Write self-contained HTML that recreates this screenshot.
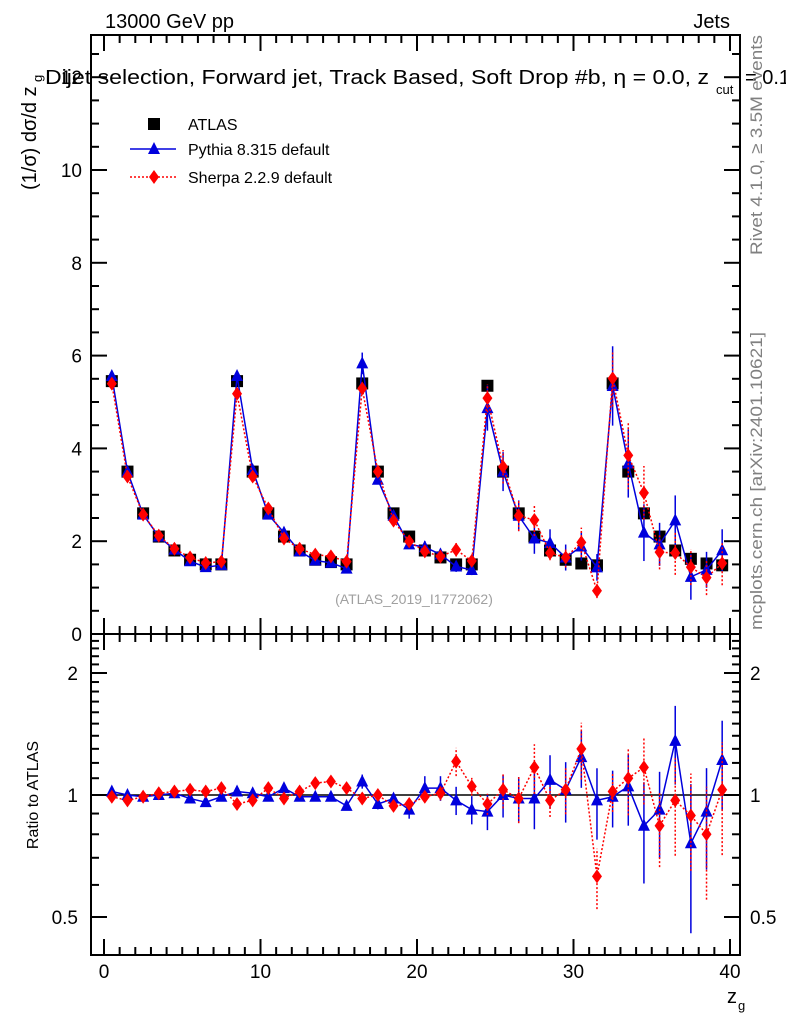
<!DOCTYPE html>
<html><head><meta charset="utf-8"><style>
body{margin:0;background:#fff;}
svg{display:block;font-family:"Liberation Sans",sans-serif;}
</style></head><body>
<svg id="c" width="786" height="1024" xmlns="http://www.w3.org/2000/svg"></svg>
<script>
const atlas=[5.45,3.5,2.6,2.1,1.8,1.6,1.5,1.5,5.45,3.5,2.6,2.1,1.8,1.6,1.55,1.5,5.4,3.5,2.6,2.1,1.8,1.65,1.5,1.5,5.35,3.5,2.6,2.1,1.8,1.6,1.52,1.48,5.4,3.5,2.6,2.1,1.8,1.62,1.52,1.48];
const pythiaRatio=[1.02,1.0,0.99,1.0,1.01,0.98,0.96,0.99,1.02,1.01,0.99,1.04,0.99,0.99,0.99,0.94,1.08,0.95,0.98,0.92,1.04,1.04,0.97,0.92,0.91,1.0,0.98,0.98,1.09,1.03,1.24,0.97,0.99,1.05,0.84,0.92,1.36,0.76,0.91,1.22];
const pythiaErr=[0.01,0.01,0.01,0.01,0.01,0.01,0.01,0.01,0.01,0.01,0.01,0.01,0.01,0.01,0.01,0.02,0.04,0.03,0.03,0.05,0.07,0.07,0.08,0.08,0.1,0.12,0.13,0.16,0.15,0.17,0.16,0.2,0.16,0.2,0.28,0.24,0.22,0.4,0.28,0.25];
const sherpaRatio=[0.99,0.97,0.99,1.01,1.02,1.03,1.02,1.04,0.95,0.97,1.04,0.98,1.02,1.07,1.08,1.04,0.98,1.0,0.94,0.95,0.99,1.01,1.21,1.05,0.95,1.03,0.98,1.17,0.97,1.03,1.3,0.63,1.02,1.1,1.17,0.84,0.97,0.89,0.8,1.03];
const sherpaErr=[0.01,0.01,0.01,0.01,0.01,0.01,0.01,0.01,0.01,0.01,0.01,0.01,0.01,0.01,0.01,0.02,0.02,0.02,0.03,0.03,0.03,0.04,0.08,0.05,0.06,0.1,0.13,0.14,0.09,0.13,0.16,0.17,0.11,0.19,0.19,0.21,0.27,0.27,0.31,0.31];
const xTicks=[0,10,20,30,40];
const yTicks=[0,2,4,6,8,10,12];
const rTicks=[0.5,1,2];

const S=document.getElementById('c'),NS='http://www.w3.org/2000/svg';
function el(t,a,p){const e=document.createElementNS(NS,t);for(const k in a)e.setAttribute(k,a[k]);(p||S).appendChild(e);return e;}
const L=91,R=740,MT=35,MB=634,RT=634,RB=955;
const X=v=>104+v*15.65;
const Y=v=>634-v*46.4;
const YR=v=>795-122*Math.log2(v);

let f=el('rect',{x:L,y:MT,width:R-L,height:MB-MT,fill:'none',stroke:'#000','stroke-width':2});

f=el('rect',{x:L,y:RT,width:R-L,height:RB-RT,fill:'none',stroke:'#000','stroke-width':2});


const ax=el('g',{stroke:'#000','stroke-width':2});

for(let v=0;v<=40;v++){const x=X(v),big=v%10==0,len=big?16:8;
 el('line',{x1:x,x2:x,y1:MB,y2:MB-len},ax);el('line',{x1:x,x2:x,y1:MT,y2:MT+len},ax);
 el('line',{x1:x,x2:x,y1:RB,y2:RB-len},ax);el('line',{x1:x,x2:x,y1:RT,y2:RT+len},ax);}
for(let v=0;v<=12.9;v+=0.5){const y=Y(v),big=Math.abs(v%2)<1e-6,len=big?16:8;
 el('line',{x1:L,x2:L+len,y1:y,y2:y},ax);el('line',{x1:R,x2:R-len,y1:y,y2:y},ax);}
for(let v=0.4;v<=2.5;v+=0.1){const y=YR(v);if(y<RT||y>RB)continue;const big=rTicks.some(t=>Math.abs(t-v)<1e-6),len=big?16:8;
 el('line',{x1:L,x2:L+len,y1:y,y2:y},ax);el('line',{x1:R,x2:R-len,y1:y,y2:y},ax);}
el('line',{x1:L,x2:R,y1:YR(1),y2:YR(1),stroke:'#000','stroke-width':1.5});

function txt(s,a,name){const t=el('text',a);t.textContent=s;return t;}
xTicks.forEach(v=>txt(String(v),{x:X(v),y:978,'font-size':19,'text-anchor':'middle'},'x-tick-label'));
yTicks.forEach(v=>txt(String(v),{x:82,y:Y(v)+7,'font-size':19,'text-anchor':'end'},'y-tick-label'));
rTicks.forEach(v=>{txt(String(v),{x:78,y:YR(v)+7,'font-size':19,'text-anchor':'end'},'ratio-tick-label');
 txt(String(v),{x:750,y:YR(v)+7,'font-size':19},'ratio-tick-label-right');});

function series(ratio,err,color,dash,marker,name){
 const g=el('g',{});
 const vals=atlas.map((a,i)=>a*ratio[i]);
 let p1='',p2='';
 vals.forEach((v,i)=>{p1+=(i?'L':'M')+X(i+0.5)+','+Y(v);p2+=(i?'L':'M')+X(i+0.5)+','+YR(ratio[i]);});
 el('path',{d:p1,fill:'none',stroke:color,'stroke-width':1.5,'stroke-dasharray':dash},g);
 el('path',{d:p2,fill:'none',stroke:color,'stroke-width':1.5,'stroke-dasharray':dash},g);
 vals.forEach((v,i)=>{const x=X(i+0.5);
  const e=v*err[i];
  el('line',{x1:x,x2:x,y1:Y(v-e),y2:Y(v+e),stroke:color,'stroke-width':1.5,'stroke-dasharray':dash},g);
  const r=ratio[i],re=r*err[i];
  el('line',{x1:x,x2:x,y1:YR(r-re),y2:YR(r+re),stroke:color,'stroke-width':1.5,'stroke-dasharray':dash},g);
  [Y(v),YR(r)].forEach(y=>{const m=marker(x,y,color,g);});
 });
}
const tri=(x,y,c,g)=>el('polygon',{points:`${x},${y-7} ${x-6},${y+5} ${x+6},${y+5}`,fill:c},g);
const dia=(x,y,c,g)=>el('polygon',{points:`${x},${y-7} ${x-5},${y} ${x},${y+7} ${x+5},${y}`,fill:c},g);
const sq=(x,y,c,g)=>el('rect',{x:x-6,y:y-6,width:12,height:12,fill:c},g);

const ga=el('g',{});
atlas.forEach((v,i)=>{const m=sq(X(i+0.5),Y(v),'#000',ga);});
series(pythiaRatio,pythiaErr,'#0000dd','',tri,'pythia-series');
series(sherpaRatio,sherpaErr,'#ff0000','2,2',dia,'sherpa-series');

txt('13000 GeV pp',{x:105,y:28,'font-size':20},'energy-label');
txt('Jets',{x:730,y:28,'font-size':20,'text-anchor':'end'},'process-label');
txt('Dijet selection, Forward jet, Track Based, Soft Drop #b, η = 0.0, z',{x:45,y:84,'font-size':20,textLength:664,lengthAdjust:'spacingAndGlyphs'},'plot-title');
txt('cut',{x:716,y:94,'font-size':13},'title-subscript');
txt('= 0.1',{x:745,y:84,'font-size':20},'title-tail');
txt('(1/σ) dσ/d z',{x:0,y:0,'font-size':20,transform:'translate(36,190) rotate(-90)'},'y-axis-title');
txt('g',{x:0,y:0,'font-size':13,transform:'translate(42,82) rotate(-90)'},'y-axis-title-sub');
txt('Ratio to ATLAS',{x:0,y:0,'font-size':16,'text-anchor':'middle',transform:'translate(38,795) rotate(-90)'},'ratio-axis-title');
txt('z',{x:727,y:1003,'font-size':20},'x-axis-title');
txt('g',{x:738,y:1010,'font-size':13},'x-axis-title-sub');
txt('(ATLAS_2019_I1772062)',{x:414,y:604,'font-size':14,fill:'#a0a0a0','text-anchor':'middle'},'analysis-id');
txt('Rivet 4.1.0, ≥ 3.5M events',{x:0,y:0,'font-size':17,fill:'#808080',textLength:220,lengthAdjust:'spacingAndGlyphs',transform:'translate(762,255) rotate(-90)'},'rivet-label');
txt('mcplots.cern.ch [arXiv:2401.10621]',{x:0,y:0,'font-size':17,fill:'#808080',textLength:298,lengthAdjust:'spacingAndGlyphs',transform:'translate(762,630) rotate(-90)'},'mcplots-label');

const lg=el('g',{});
let m=sq(154,124,'#000',lg);
txt('ATLAS',{x:188,y:130,'font-size':16},'legend-atlas');
el('line',{x1:130,x2:176,y1:149,y2:149,stroke:'#0000dd','stroke-width':1.5},lg);
m=tri(154,149,'#0000dd',lg);
txt('Pythia 8.315 default',{x:188,y:155,'font-size':16},'legend-pythia');
el('line',{x1:130,x2:176,y1:177,y2:177,stroke:'#ff0000','stroke-width':1.5,'stroke-dasharray':'2,2'},lg);
m=dia(154,177,'#ff0000',lg);
txt('Sherpa 2.2.9 default',{x:188,y:183,'font-size':16},'legend-sherpa');
</script>
</body></html>
